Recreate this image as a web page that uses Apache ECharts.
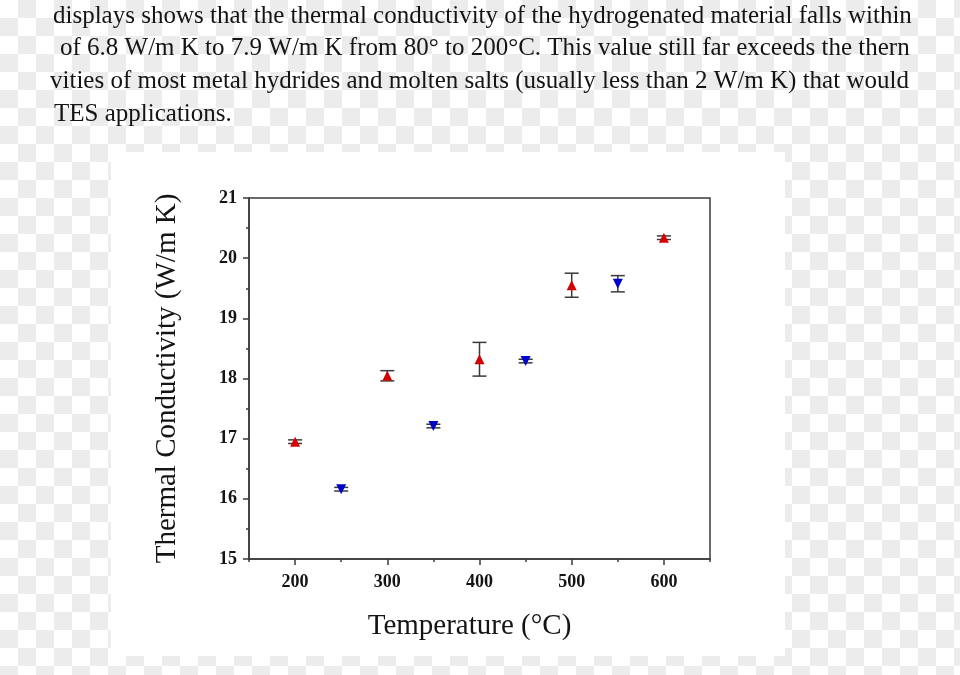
<!DOCTYPE html>
<html>
<head>
<meta charset="utf-8">
<script src="https://cdn.jsdelivr.net/npm/echarts@6/dist/echarts.min.js"></script>
<style>
html,body{margin:0;padding:0;}
body{width:960px;height:675px;overflow:hidden;
background:repeating-conic-gradient(#ececec 0% 25%, #ffffff 0% 50%) 0 0/36px 36px;}
#c{width:960px;height:675px;}
</style>
</head>
<body>
<div id="c"></div>
<script>
// Text lines above the chart
const textLines = [
  'displays shows that the thermal conductivity of the hydrogenated material falls within',
  'of 6.8 W/m K to 7.9 W/m K from 80\u00b0 to 200\u00b0C. This value still far exceeds the thern',
  'vities of most metal hydrides and molten salts (usually less than 2 W/m K) that would',
  'TES applications.'
];
const xTickLabels = [200, 300, 400, 500, 600];
const xMinorTicks = [150, 250, 350, 450, 550, 650];

// Series: red up-triangles
const redX = [200, 300, 400, 500, 600];
const redY = [16.95, 18.045, 18.32, 19.55, 20.34];
const redErr = [0.03, 0.085, 0.28, 0.2, 0.03];
// Series: blue down-triangles
const blueX = [250, 350, 450, 550];
const blueY = [16.16, 17.21, 18.29, 19.575];
const blueErr = [0.03, 0.03, 0.03, 0.135];

const SERIF = '"Liberation Serif","DejaVu Serif",serif';

function pts(xs, ys) { return xs.map((x, i) => [x, ys[i]]); }
function errs(xs, ys, es) { return xs.map((x, i) => [x, ys[i] - es[i], ys[i] + es[i]]); }

function renderErr(params, api) {
  const x = api.value(0);
  const lo = api.coord([x, api.value(1)]);
  const hi = api.coord([x, api.value(2)]);
  const w = 7;
  const st = { stroke: '#3a3a3a', lineWidth: 1.5 };
  return {
    type: 'group',
    children: [
      { type: 'line', shape: { x1: lo[0], y1: lo[1], x2: hi[0], y2: hi[1] }, style: st },
      { type: 'line', shape: { x1: hi[0] - w, y1: hi[1], x2: hi[0] + w, y2: hi[1] }, style: st },
      { type: 'line', shape: { x1: lo[0] - w, y1: lo[1], x2: lo[0] + w, y2: lo[1] }, style: st }
    ]
  };
}

const chart = echarts.init(document.getElementById('c'), null, { renderer: 'canvas' });

const graphics = [
  { type: 'rect', shape: { x: 111, y: 152, width: 674, height: 504 }, style: { fill: '#ffffff' }, z: -10 }
];
const lineX = [53, 60, 50, 54];
const lineY = [16, 48, 81, 114];
textLines.forEach((t, i) => {
  graphics.push({
    type: 'text', x: lineX[i], y: lineY[i],
    style: { text: t, fill: '#141414', font: '25px ' + SERIF, textVerticalAlign: 'middle', textAlign: 'left' }
  });
});

chart.setOption({
  animation: false,
  backgroundColor: 'transparent',
  graphic: graphics,
  grid: {
    left: 249, right: 250, top: 198, bottom: 116,
    show: true, borderColor: '#3a3a3a', borderWidth: 1.5, backgroundColor: 'transparent'
  },
  xAxis: [
    {
      type: 'value', min: 150, max: 650,
      name: 'Temperature (\u00b0C)', nameLocation: 'middle', nameGap: 53,
      nameTextStyle: { fontFamily: SERIF, fontSize: 29, color: '#141414', padding: [0, 20, 0, 0] },
      axisLine: { show: true, onZero: false, lineStyle: { color: '#3a3a3a', width: 1.5 } },
      axisTick: { show: true, customValues: xTickLabels, length: 6, lineStyle: { color: '#3a3a3a', width: 1.5 } },
      axisLabel: { customValues: xTickLabels, margin: 14, fontFamily: SERIF, fontSize: 18, fontWeight: 'bold', color: '#141414' },
      splitLine: { show: false }
    },
    {
      type: 'value', min: 150, max: 650, position: 'bottom',
      axisLine: { show: false },
      axisTick: { show: true, customValues: xMinorTicks, length: 3, lineStyle: { color: '#3a3a3a', width: 1.5 } },
      axisLabel: { show: false },
      splitLine: { show: false }
    }
  ],
  yAxis: {
    type: 'value', min: 15, max: 21, interval: 1,
    name: 'Thermal Conductivity (W/m K)', nameLocation: 'middle', nameGap: 67,
    nameTextStyle: { fontFamily: SERIF, fontSize: 29, color: '#141414' },
    axisLine: { show: true, onZero: false, lineStyle: { color: '#3a3a3a', width: 1.5 } },
    axisTick: { show: true, length: 6, lineStyle: { color: '#3a3a3a', width: 1.5 } },
    minorTick: { show: true, splitNumber: 2, length: 3, lineStyle: { color: '#3a3a3a', width: 1.5 } },
    axisLabel: { margin: 12, fontFamily: SERIF, fontSize: 18, fontWeight: 'bold', color: '#141414' },
    splitLine: { show: false }
  },
  series: [
    { type: 'custom', name: 'redErr', renderItem: renderErr, data: errs(redX, redY, redErr), z: 2, encode: { x: 0, y: [1, 2] } },
    { type: 'custom', name: 'blueErr', renderItem: renderErr, data: errs(blueX, blueY, blueErr), z: 2, encode: { x: 0, y: [1, 2] } },
    { type: 'scatter', name: 'red', data: pts(redX, redY), symbol: 'triangle', symbolSize: [10, 10],
      itemStyle: { color: '#d40000', opacity: 1 }, z: 3 },
    { type: 'scatter', name: 'blue', data: pts(blueX, blueY), symbol: 'triangle', symbolRotate: 180, symbolSize: [10, 10],
      itemStyle: { color: '#0000c8', opacity: 1 }, z: 3 }
  ]
});
</script>
</body>
</html>
